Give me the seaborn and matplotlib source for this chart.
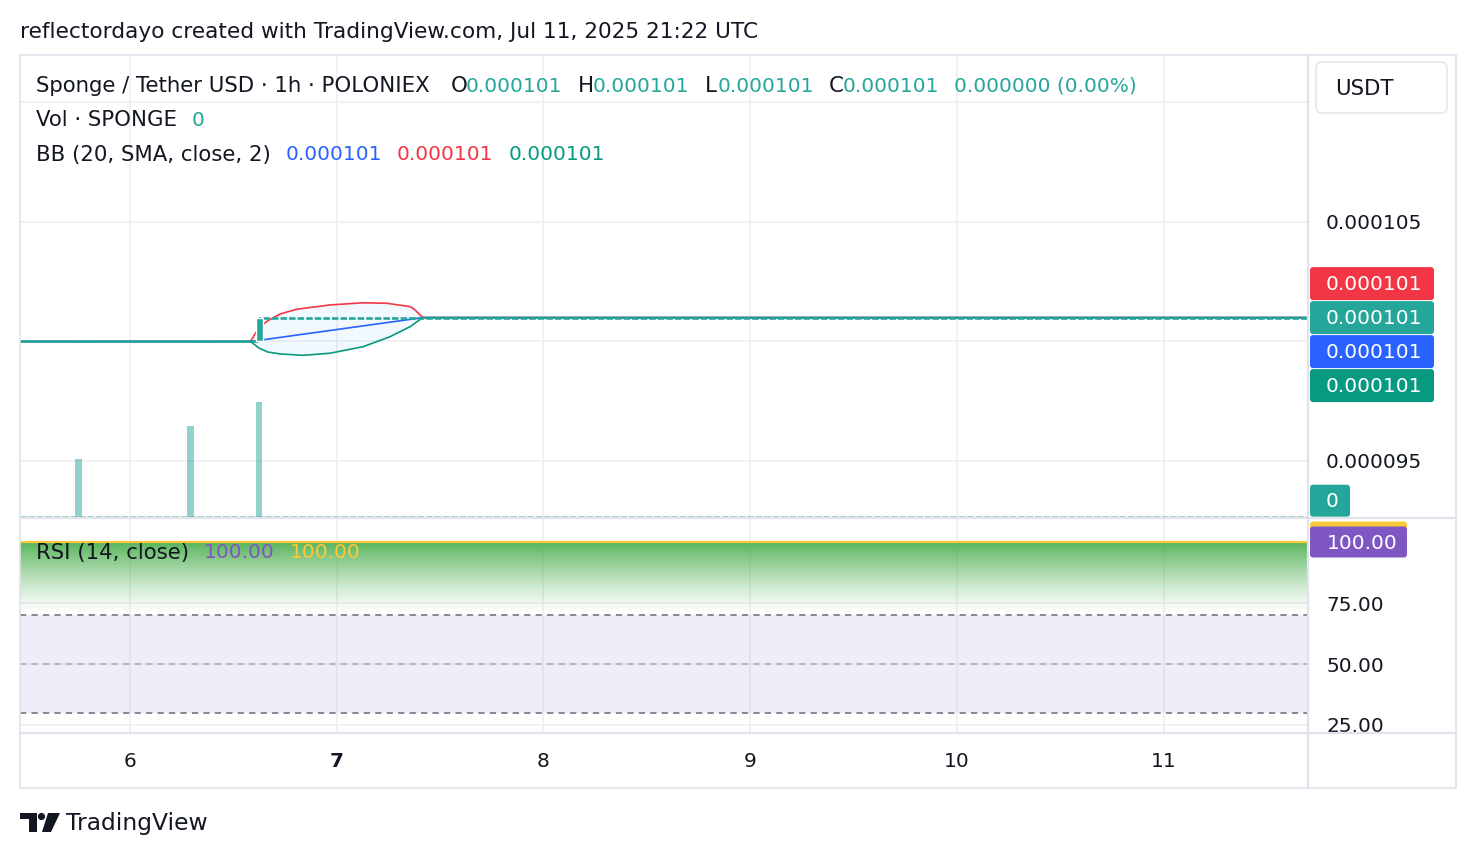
import numpy as np
import matplotlib
matplotlib.use("Agg")
import matplotlib.pyplot as plt
import seaborn as sns
from matplotlib.patches import FancyBboxPatch, Polygon, Circle
from matplotlib.lines import Line2D
from matplotlib.transforms import IdentityTransform, Bbox

# === DATA (x = day of July 2025, hourly bars) ===
price_days = [5.468, 6.625, 11.699]
price_close = [0.000100, 0.000101, 0.000101]
jump_day = 6.625
jump_open = 0.000100
jump_close = 0.000101

vol_days = [5.75, 6.2917, 6.625]
vol_values = [2.52e6, 3.96e6, 5.0e6]

bb_upper_days = [5.468, 6.583, 6.625, 6.667, 6.726, 6.807, 6.968, 7.129, 7.242, 7.355, 7.375, 7.417, 11.699]
bb_upper = [1.0000e-4, 1.0000e-4, 1.0060e-4, 1.0087e-4, 1.0115e-4, 1.0135e-4, 1.0153e-4,
            1.0162e-4, 1.0160e-4, 1.0146e-4, 1.0135e-4, 1.0100e-4, 1.0100e-4]
bb_lower_days = [5.468, 6.583, 6.625, 6.667, 6.726, 6.837, 6.968, 7.127, 7.258, 7.355, 7.417, 11.699]
bb_lower = [1.0000e-4, 1.0000e-4, 0.9972e-4, 0.9956e-4, 0.9948e-4, 0.9942e-4, 0.9951e-4,
            0.9978e-4, 1.0020e-4, 1.0062e-4, 1.0100e-4, 1.0100e-4]
bb_basis_days = [5.468, 6.583, 6.625, 7.417, 11.699]
bb_basis = [1.0000e-4, 1.0000e-4, 1.0005e-4, 1.0100e-4, 1.0100e-4]

rsi_days = [5.468, 11.699]
rsi_values = [100.0, 100.0]
rsi_ma = [100.0, 100.0]

price_ticks = [0.000095, 0.000100, 0.000105, 0.000110]
price_tick_labels = ["0.000095", "", "0.000105", ""]
rsi_ticks = [75, 50, 25]
rsi_tick_labels = ["75.00", "50.00", "25.00"]
day_ticks = [6, 7, 8, 9, 10, 11]
day_tick_labels = ["6", "7", "8", "9", "10", "11"]

# === STYLE ===
sns.set_theme(style="white")
plt.rcParams['font.family'] = ['DejaVu Sans']
TXT = '#131722'
GRID = '#f0f0f3'
BORDER = '#e0e3eb'
TEAL = '#26a69a'
FS = 14.5      # numbers
FL = 15.3      # words

W, H = 1476, 858
def fx(px):
    return px / W
def fy(py):
    return 1 - py / H

fig = plt.figure(figsize=(W / 100, H / 100), dpi=100)
fig.patch.set_facecolor('white')

ax = fig.add_axes([fx(20), fy(518), fx(1308) - fx(20), fy(55) - fy(518)])
ax_rsi = fig.add_axes([fx(20), fy(733), fx(1308) - fx(20), fy(518) - fy(733)])
ax_vol = ax.twinx()

xlim = (5.4678, 11.699)

# --- main pane: bollinger bands ---
band_x = bb_upper_days + bb_lower_days[::-1]
band_y = bb_upper + bb_lower[::-1]
ax.add_patch(Polygon(np.column_stack([band_x, band_y]), closed=True,
                     fc='#2196f3', alpha=0.06, ec='none', zorder=2))
sns.lineplot(x=bb_upper_days, y=bb_upper, ax=ax, color='#f23645', lw=1.2, zorder=3)
sns.lineplot(x=bb_basis_days, y=bb_basis, ax=ax, color='#2962ff', lw=1.2, zorder=3)
sns.lineplot(x=bb_lower_days, y=bb_lower, ax=ax, color='#089981', lw=1.2, zorder=3)

# price as flat hourly candles
ax.plot(price_days, price_close, drawstyle='steps-post', color=TEAL, lw=1.9,
        linestyle=(0, (2.45, 0.8)), zorder=4)
ax.bar([jump_day], [jump_close - jump_open], bottom=[jump_open], width=0.034,
       color=TEAL, zorder=5)

ax.set_xlim(*xlim)
ax.set_ylim(9.2615e-5, 1.11987e-4)
ax.set_xticks(day_ticks)
ax.set_xticklabels([])
ax.yaxis.tick_right()
ax.set_yticks(price_ticks)
ax.set_yticklabels(price_tick_labels)
ax.tick_params(axis='both', length=0, labelsize=FS, labelcolor=TXT, pad=13)
ax.grid(True, color=GRID, lw=1.3)
ax.set_axisbelow(True)
for s in ax.spines.values():
    s.set_visible(False)

# --- volume overlay ---
px_per_unit = 114.7 / max(vol_values)
ax_vol.set_ylim(-1.3 / px_per_unit, 461.7 / px_per_unit)
ax_vol.bar(vol_days, vol_values, width=0.031, color=TEAL, alpha=0.5, lw=0)
ax_vol.plot(xlim, [0, 0], color=TEAL, alpha=0.5, lw=1.4, linestyle=(0, (3.3, 1.05)))
ax_vol.set_xlim(*xlim)
ax_vol.axis('off')

# --- RSI pane ---
ax_rsi.axhspan(30, 70, color='#7e57c2', alpha=0.1, lw=0, zorder=1)
grad = np.zeros((200, 1, 4))
grad[..., 0], grad[..., 1], grad[..., 2] = 0.30, 0.69, 0.31
grad[:, 0, 3] = np.linspace(1, 0, 200) ** 1.3 * 0.95
ax_rsi.imshow(grad, extent=[rsi_days[0], rsi_days[-1], 70, max(rsi_values)],
              aspect='auto', origin='upper', zorder=2)
for lvl, a in [(70, 1.0), (50, 0.5), (30, 1.0)]:
    ax_rsi.axhline(lvl, color='#787b86', alpha=a, lw=1.25, linestyle=(0, (3.6, 3.0)), zorder=3)
sns.lineplot(x=rsi_days, y=rsi_values, ax=ax_rsi, color='#7e57c2', lw=1.3, zorder=4)
sns.lineplot(x=rsi_days, y=rsi_ma, ax=ax_rsi, color='#f9c93a', lw=1.6, zorder=5)
ax_rsi.set_xlim(*xlim)
ax_rsi.set_ylim(21.72, 109.84)
ax_rsi.set_xticks(day_ticks)
ax_rsi.set_xticklabels(day_tick_labels)
ax_rsi.get_xticklabels()[1].set_fontweight('bold')
ax_rsi.yaxis.tick_right()
ax_rsi.set_yticks(rsi_ticks)
ax_rsi.set_yticklabels(rsi_tick_labels)
ax_rsi.tick_params(axis='y', length=0, labelsize=FS, labelcolor=TXT, pad=13)
ax_rsi.tick_params(axis='x', length=0, labelsize=FS, labelcolor=TXT, pad=14)
ax_rsi.grid(True, color=GRID, lw=1.3)
ax_rsi.set_axisbelow(True)
for s in ax_rsi.spines.values():
    s.set_visible(False)
clip = Bbox([[1309, H - 733], [1456, H - 518]])
for lab in ax_rsi.get_yticklabels():
    lab.set_clip_box(clip)
    lab.set_clip_on(True)

# === FRAME LINES ===
def hline(x0, x1, y, lw=1.2):
    fig.add_artist(Line2D([fx(x0), fx(x1)], [fy(y), fy(y)], color=BORDER, lw=lw))
def vline(x, y0, y1, lw=1.2):
    fig.add_artist(Line2D([fx(x), fx(x)], [fy(y0), fy(y1)], color=BORDER, lw=lw))

hline(20, 1456, 55)
hline(20, 1456, 788)
hline(20, 1456, 518, lw=1.6)
hline(20, 1456, 733, lw=1.6)
vline(20, 55, 788)
vline(1456, 55, 788)
vline(1308, 55, 788, lw=1.6)

# === PRICE / INDICATOR TAGS ===
def tag(x0, yc, w, h, color, text, tx):
    fig.add_artist(FancyBboxPatch((x0, H - yc - h / 2), w, h,
                                  boxstyle='round,pad=0,rounding_size=3',
                                  fc=color, ec='none', transform=IdentityTransform()))
    fig.text(fx(tx), fy(yc + 1), text, color='white', fontsize=FS, va='center', ha='left')

y_last = H - ax.transData.transform((0, price_close[-1]))[1]
tag(1310, y_last - 34, 124, 33, '#f23645', '0.000101', 1326)
tag(1310, y_last, 124, 33, TEAL, '0.000101', 1326)
tag(1310, y_last + 34, 124, 33, '#2962ff', '0.000101', 1326)
tag(1310, y_last + 68, 124, 33, '#089981', '0.000101', 1326)

y_vol0 = H - ax_vol.transData.transform((0, 0))[1]
tag(1310, y_vol0 - 16, 40, 32, TEAL, '0', 1326)

y_rsi = H - ax_rsi.transData.transform((0, rsi_values[-1]))[1]
fig.add_artist(FancyBboxPatch((1310, H - (y_rsi - 5) - 15.5), 97, 31,
                              boxstyle='round,pad=0,rounding_size=3',
                              fc='#f9c93a', ec='none', transform=IdentityTransform()))
tag(1310, y_rsi, 97, 31, '#7e57c2', '100.00', 1327)

# currency box
fig.add_artist(FancyBboxPatch((1316, H - 113), 131, 51,
                              boxstyle='round,pad=0,rounding_size=6',
                              fc='white', ec=BORDER, lw=1, transform=IdentityTransform()))
fig.text(fx(1335), fy(89), 'USDT', color=TXT, fontsize=FL, va='center', ha='left')

# === LEGEND TEXTS ===
def txt(x, y, s, color=TXT, size=FL):
    fig.text(fx(x), fy(y + 1.5), s, color=color, fontsize=size, va='center', ha='left')

txt(20, 31, 'reflectordayo created with TradingView.com, Jul 11, 2025 21:22 UTC', size=15.6)
txt(36, 85, 'Sponge / Tether USD · 1h · POLONIEX')
ohlc = [('O', 451, 466), ('H', 578, 593), ('L', 705, 718), ('C', 829, 843)]
for letter, xl, xv in ohlc:
    txt(xl, 85, letter)
    txt(xv, 85, '0.000101', color=TEAL, size=FS)
txt(954, 85, '0.000000 (0.00%)', color=TEAL, size=FS)
txt(36, 119, 'Vol · SPONGE')
txt(192, 119, '0', color=TEAL, size=FS)
txt(36, 153, 'BB (20, SMA, close, 2)')
txt(286, 153, '0.000101', color='#2962ff', size=FS)
txt(397, 153, '0.000101', color='#f23645', size=FS)
txt(509, 153, '0.000101', color='#089981', size=FS)
txt(36, 551, 'RSI (14, close)')
txt(204, 551, '100.00', color='#7e57c2', size=FS)
txt(290, 551, '100.00', color='#f9c93a', size=FS)

# === TRADINGVIEW LOGO ===
def px_poly(points):
    return Polygon([(fx(a), fy(b)) for a, b in points], closed=True,
                   transform=fig.transFigure, fc=TXT, ec='none')

fig.add_artist(px_poly([(20, 813), (37, 813), (37, 832), (29, 832), (29, 819), (20, 819)]))
fig.add_artist(Circle((41.5, H - 816.5), 3.6, transform=IdentityTransform(), fc=TXT, ec='none'))
fig.add_artist(px_poly([(48, 813), (60, 813), (51, 832), (42, 832)]))
txt(66, 822, 'TradingView', size=16.8)

fig.savefig('out.png', dpi=100, facecolor='white')
